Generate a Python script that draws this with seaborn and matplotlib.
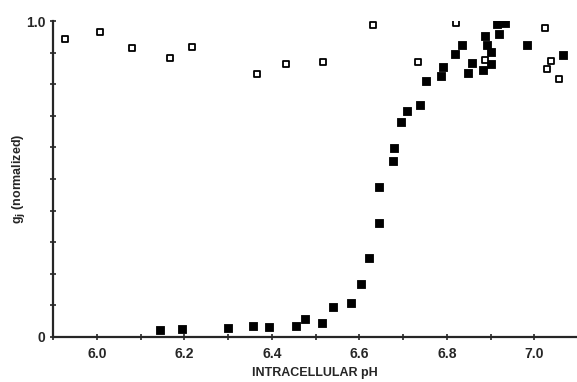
import pandas as pd
import seaborn as sns
import matplotlib.pyplot as plt
import numpy as np

# open squares (top series)
open_ph = [5.927, 6.008, 6.081, 6.168, 6.218, 6.365, 6.433, 6.518, 6.632, 6.734,
           6.820, 6.888, 7.024, 7.039, 7.029, 7.056]
open_gj = [0.943, 0.966, 0.914, 0.882, 0.917, 0.832, 0.864, 0.869, 0.987, 0.870,
           0.994, 0.876, 0.977, 0.874, 0.848, 0.817]

# filled squares (pH sensitive series)
filled_ph = [6.145, 6.195, 6.299, 6.357, 6.393, 6.455, 6.475, 6.514, 6.541, 6.580,
             6.604, 6.622, 6.646, 6.646, 6.676, 6.680, 6.695, 6.709, 6.738, 6.753,
             6.786, 6.791, 6.819, 6.834, 6.849, 6.858, 6.882, 6.887, 6.891, 6.900,
             6.902, 6.914, 6.919, 6.934, 6.984, 7.065]
filled_gj = [0.023, 0.024, 0.027, 0.034, 0.030, 0.033, 0.058, 0.043, 0.096, 0.108,
             0.166, 0.251, 0.361, 0.473, 0.556, 0.597, 0.679, 0.715, 0.733, 0.809,
             0.825, 0.856, 0.895, 0.924, 0.837, 0.867, 0.846, 0.952, 0.924, 0.901,
             0.865, 0.991, 0.958, 0.995, 0.924, 0.891]

x_ticks = [6.0, 6.2, 6.4, 6.6, 6.8, 7.0]
x_labels = ["6.0", "6.2", "6.4", "6.6", "6.8", "7.0"]

sns.set_style("ticks")
plt.rcParams['font.family'] = ['Liberation Sans', 'DejaVu Sans']
plt.rcParams['font.weight'] = 'bold'

df_open = pd.DataFrame({"ph": open_ph, "gj": open_gj})
df_fill = pd.DataFrame({"ph": filled_ph, "gj": filled_gj})

fig = plt.figure(figsize=(5.77, 3.82), dpi=100)
ax = fig.add_axes([0.092, 0.118, 0.906, 0.827])

sns.scatterplot(data=df_fill, x="ph", y="gj", marker="s", s=28, color="black",
                edgecolor="black", linewidth=0.6, ax=ax, zorder=3)
sns.scatterplot(data=df_open, x="ph", y="gj", marker="s", s=20, facecolor="white",
                edgecolor="black", linewidth=1.3, ax=ax, zorder=3)

ax.set_xlim(5.90, 7.095)
ax.set_ylim(0, 1.0)
sns.despine(ax=ax)
for sp in ["left", "bottom"]:
    ax.spines[sp].set_linewidth(1.6)

ax.set_xticks(x_ticks)
ax.set_xticklabels(x_labels, fontsize=10, fontweight="bold")
ax.set_xticks(np.arange(5.9, 7.1, 0.1), minor=True)
yt = np.round(np.arange(0, 1.01, 0.1), 1)
ax.set_yticks(yt)
ax.set_yticklabels(["0"] + [""] * 9 + ["1.0"], fontsize=10, fontweight="bold")
ax.tick_params(axis="both", which="both", direction="inout", length=5, width=1.2, pad=3)
ax.tick_params(axis="x", which="both", pad=5)

ax.set_xlabel("INTRACELLULAR pH", fontsize=9, fontweight="bold")
ax.xaxis.set_label_coords(0.5, -0.095)
ax.set_ylabel("g$_\\mathbf{j}$ (normalized)", fontsize=9, fontweight="bold")
ax.yaxis.set_label_coords(-0.05, 0.5)

fig.savefig("out.png", dpi=100)
